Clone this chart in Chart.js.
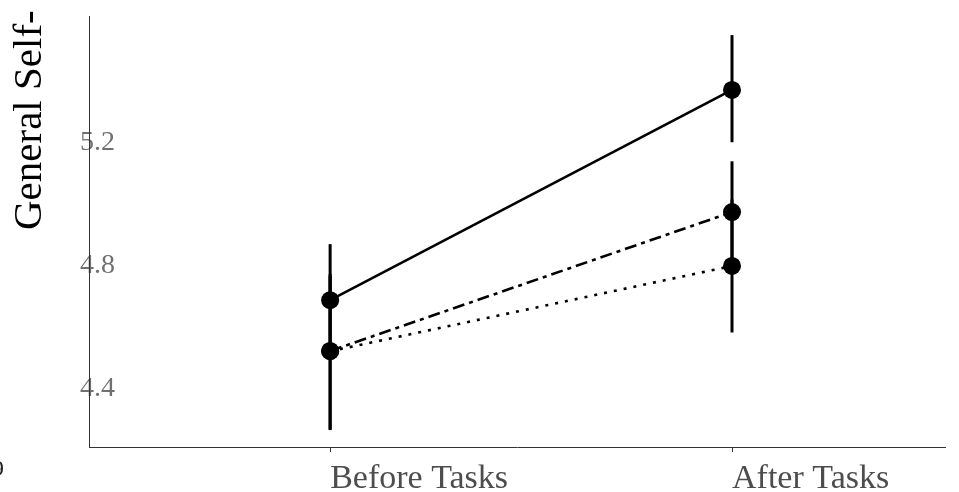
<!DOCTYPE html>
<html>
<head>
<meta charset="utf-8">
<script src="https://cdn.jsdelivr.net/npm/chart.js@4.4.1/dist/chart.umd.min.js"></script>
<style>
  html, body { margin: 0; padding: 0; background: #ffffff; }
  #wrap { width: 959px; height: 492px; position: relative; }
</style>
</head>
<body>
<div id="wrap"><canvas id="c" width="959" height="492"></canvas></div>
<script>
// ---- data ----
const categories = ['Before Tasks', 'After Tasks'];
const yTicks = [4.4, 4.8, 5.2];
const yTitle = 'General Self-';

const solidMean  = [4.677, 5.360];
const solidLow   = [4.495, 5.190];
const solidHigh  = [4.859, 5.538];

const dashDotMean = [4.512, 4.963];
const dashDotLow  = [4.257, 4.798];
const dashDotHigh = [4.762, 5.128];

const dottedMean = [4.511, 4.788];
const dottedLow  = [4.255, 4.572];
const dottedHigh = [4.755, 5.004];

// ---- build datasets ----
const series = [
  { mean: solidMean,   low: solidLow,   high: solidHigh,   dash: [] },
  { mean: dashDotMean, low: dashDotLow, high: dashDotHigh, dash: [12, 5, 4, 5] },
  { mean: dottedMean,  low: dottedLow,  high: dottedHigh,  dash: [3, 7] }
];

const datasets = [];
series.forEach(s => {
  categories.forEach((c, i) => {
    datasets.push({
      type: 'line',
      data: [{ x: i, y: s.low[i] }, { x: i, y: s.high[i] }],
      borderColor: '#000',
      borderWidth: 3,
      pointRadius: 0,
      borderCapStyle: 'butt',
      order: 2
    });
  });
});
series.forEach(s => {
  datasets.push({
    type: 'line',
    data: s.mean.map((v, i) => ({ x: i, y: v })),
    borderColor: '#000',
    borderWidth: 2.6,
    borderDash: s.dash,
    pointRadius: 9,
    pointBackgroundColor: '#000',
    pointBorderColor: '#000',
    pointBorderWidth: 0,
    order: 1
  });
});

const titlePlugin = {
  id: 'yTitle',
  afterDraw(chart) {
    const ctx = chart.ctx;
    const area = chart.chartArea;
    // y axis line drawn over the tick labels
    ctx.save();
    ctx.strokeStyle = '#333';
    ctx.lineWidth = 1;
    ctx.beginPath();
    ctx.moveTo(area.left + 0.5, area.top);
    ctx.lineTo(area.left + 0.5, area.bottom);
    ctx.stroke();
    ctx.restore();

    ctx.save();
    ctx.fillStyle = '#000';
    ctx.font = '41px "Liberation Serif", "Times New Roman", serif';
    ctx.translate(41, 230);
    ctx.rotate(-Math.PI / 2);
    ctx.textAlign = 'left';
    ctx.textBaseline = 'alphabetic';
    ctx.fillText(yTitle, 0, 0);
    ctx.restore();
    ctx.save();
    ctx.fillStyle = '#222';
    ctx.font = '24px "Liberation Serif", serif';
    ctx.textAlign = 'right';
    ctx.textBaseline = 'alphabetic';
    ctx.fillText('9', 4, 476);
    ctx.restore();
  }
};

new Chart(document.getElementById('c'), {
  type: 'line',
  data: { datasets },
  options: {
    responsive: false,
    animation: false,
    devicePixelRatio: 1,
    layout: { padding: { top: 16, right: 14, left: 0, bottom: 0 } },
    plugins: { legend: { display: false }, tooltip: { enabled: false } },
    scales: {
      x: {
        type: 'linear',
        min: -0.6,
        max: 1.53,
        afterBuildTicks: (scale) => { scale.ticks = categories.map((c, i) => ({ value: i })); },
        afterFit: (scale) => { scale.height = 45; },
        grid: { display: true, drawOnChartArea: false, drawTicks: true, tickLength: 5, color: '#333', lineWidth: 1 },
        border: { display: true, color: '#333', width: 1 },
        ticks: {
          align: 'start',
          maxRotation: 0,
          autoSkip: false,
          padding: 7,
          color: '#4d4d4d',
          font: { family: '"Liberation Serif", "Times New Roman", serif', size: 34 },
          callback: (v) => categories[v]
        }
      },
      y: {
        type: 'linear',
        min: 4.2,
        max: 5.6,
        afterBuildTicks: (scale) => { scale.ticks = yTicks.map(v => ({ value: v })); },
        afterFit: (scale) => { scale.width = 89; },
        grid: { display: false, drawTicks: false },
        border: { display: false },
        ticks: {
          mirror: true,
          padding: -9,
          labelOffset: 3,
          color: '#707070',
          font: { family: '"Liberation Serif", "Times New Roman", serif', size: 28 },
          callback: (v) => v.toFixed(1)
        }
      }
    }
  },
  plugins: [titlePlugin]
});
</script>
</body>
</html>
